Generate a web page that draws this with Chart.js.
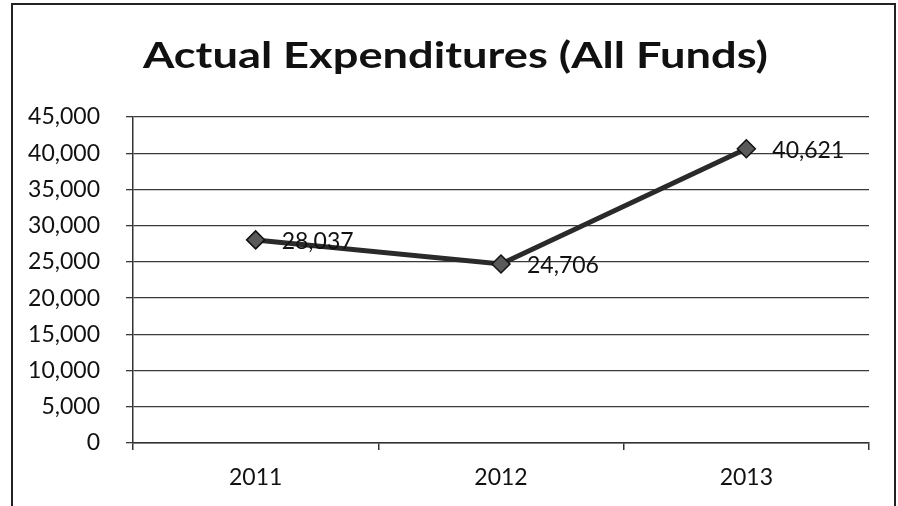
<!DOCTYPE html>
<html>
<head>
<meta charset="utf-8">
<script src="https://cdn.jsdelivr.net/npm/chart.js@4"></script>
<style>
  html, body { margin: 0; padding: 0; background: #fff; }
  #wrap { width: 898px; height: 506px; }
</style>
</head>
<body>
<div id="wrap"><canvas id="expChart" width="898" height="506"></canvas></div>
<script>
// data
const years = ['2011', '2012', '2013'];
const expenditures = [28037, 24706, 40621];
const yMin = 0;
const yMax = 45000;
const yStep = 5000;
const chartTitle = 'Actual Expenditures (All Funds)';

const fmt = v => Number(v).toLocaleString('en-US');
const FONT = 'Lato, "Open Sans", sans-serif';

// outer frame + title (title is drawn here so it can sit off-centre like the original)
const framePlugin = {
    id: 'frame',
    beforeDraw(chart) {
        const ctx = chart.ctx;
        ctx.save();
        ctx.fillStyle = '#fff';
        ctx.fillRect(0, 0, chart.width, chart.height);
        ctx.strokeStyle = '#222';
        ctx.lineWidth = 2;
        ctx.strokeRect(12, 4, 883, 540);

        ctx.font = 'bold 36px ' + FONT;
        ctx.fillStyle = '#111';
        ctx.textBaseline = 'alphabetic';
        ctx.textAlign = 'left';
        const w = ctx.measureText(chartTitle).width;
        const sx = 625 / w;
        ctx.translate(143, 68);
        ctx.scale(sx, 1);
        ctx.fillText(chartTitle, 0, 0);
        ctx.restore();
    }
};

// value labels to the right of each point
const valueLabels = {
    id: 'valueLabels',
    afterDatasetsDraw(chart) {
        const ctx = chart.ctx;
        const meta = chart.getDatasetMeta(0);
        ctx.save();
        ctx.font = '23px ' + FONT;
        ctx.fillStyle = '#111';
        ctx.textAlign = 'left';
        ctx.textBaseline = 'middle';
        meta.data.forEach((pt, i) => {
            ctx.fillText(fmt(chart.data.datasets[0].data[i]), pt.x + 26, pt.y + 2);
        });
        ctx.restore();
    }
};

new Chart(document.getElementById('expChart'), {
    type: 'line',
    data: {
        labels: years,
        datasets: [{
            label: 'Actual Expenditures',
            data: expenditures,
            borderColor: '#2a2a2a',
            borderWidth: 5,
            tension: 0,
            pointStyle: 'rectRot',
            pointRadius: 9,
            pointBackgroundColor: '#5a5a5a',
            pointBorderColor: '#111',
            pointBorderWidth: 1.5
        }]
    },
    options: {
        responsive: false,
        animation: false,
        layout: { padding: { left: 12, right: 29, top: 117, bottom: 0 } },
        plugins: {
            legend: { display: false },
            tooltip: { enabled: false },
            title: { display: false }
        },
        scales: {
            x: {
                offset: true,
                grid: {
                    offset: true,
                    drawOnChartArea: false,
                    drawTicks: true,
                    tickLength: 7,
                    color: '#333',
                    lineWidth: 1.5
                },
                border: { color: '#333', width: 1.5 },
                ticks: {
                    color: '#111',
                    font: { family: FONT, size: 23 },
                    padding: 14,
                    maxRotation: 0
                },
                afterFit(scale) { scale.height = 63; }
            },
            y: {
                min: yMin,
                max: yMax,
                ticks: {
                    stepSize: yStep,
                    color: '#111',
                    font: { family: FONT, size: 23 },
                    padding: 26,
                    callback: v => fmt(v)
                },
                grid: {
                    color: '#3a3a3a',
                    lineWidth: 1.3,
                    drawTicks: true,
                    tickLength: 7
                },
                border: { color: '#333', width: 1.5 },
                afterFit(scale) { scale.width = 121; }
            }
        }
    },
    plugins: [framePlugin, valueLabels]
});
</script>
</body>
</html>
